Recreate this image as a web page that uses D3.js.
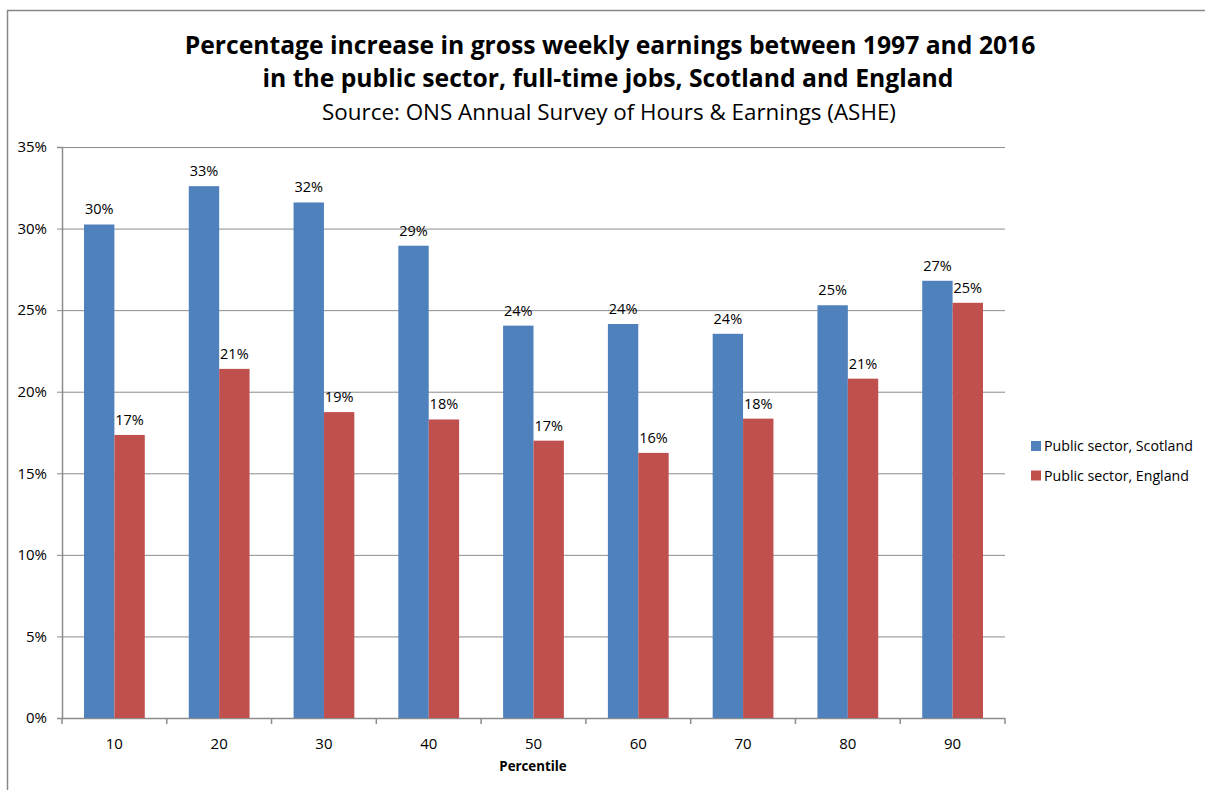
<!DOCTYPE html>
<html>
<head>
<meta charset="utf-8">
<script src="https://cdn.jsdelivr.net/npm/d3@7"></script>
<style>
  body { margin: 0; background: #fff; }
  svg { display: block; font-family: "Open Sans", sans-serif; }
</style>
</head>
<body>
<div id="chart"></div>
<script>
// data
var percentiles = ["10", "20", "30", "40", "50", "60", "70", "80", "90"];
var scotland = [30.25, 32.6, 31.6, 28.95, 24.05, 24.15, 23.55, 25.3, 26.8];
var england = [17.35, 21.4, 18.75, 18.3, 17.0, 16.25, 18.35, 20.8, 25.45];
var seriesNames = ["Public sector, Scotland", "Public sector, England"];
var seriesColors = ["#4F81BD", "#C0504D"];
var yTicks = [0, 5, 10, 15, 20, 25, 30, 35];

var svgWidth = 1205;
var svgHeight = 790;

var margin = { top: 147, right: 200, bottom: 72, left: 62 };
var width = svgWidth - margin.left - margin.right;   // 943
var height = svgHeight - margin.top - margin.bottom; // 571

var svg = d3.select("#chart")
  .append("svg")
  .attr("width", svgWidth)
  .attr("height", svgHeight);

// outer chart frame (only top + left visible)
svg.append("path")
  .attr("d", "M7.5,790 V10.5 H1205")
  .attr("fill", "none")
  .attr("stroke", "#888")
  .attr("stroke-width", 1.5);

// titles
var titles = svg.append("g").attr("text-anchor", "middle");
titles.append("text")
  .attr("x", 610).attr("y", 54)
  .attr("font-size", "24.7px").attr("font-weight", "700")
  .text("Percentage increase in gross weekly earnings between 1997 and 2016");
titles.append("text")
  .attr("x", 608).attr("y", 87)
  .attr("font-size", "24.7px").attr("font-weight", "700")
  .text("in the public sector, full-time jobs, Scotland and England");
titles.append("text")
  .attr("x", 609).attr("y", 120)
  .attr("font-size", "22.4px")
  .text("Source: ONS Annual Survey of Hours & Earnings (ASHE)");

var chartGroup = svg.append("g")
  .attr("transform", `translate(${margin.left}, ${margin.top})`);

var x0 = d3.scaleBand()
  .domain(percentiles)
  .range([0, width]);

var x1 = d3.scaleBand()
  .domain([0, 1])
  .range([x0.bandwidth() * 0.21, x0.bandwidth() * 0.79]);

var y = d3.scaleLinear()
  .domain([0, 35])
  .range([height, 0]);

// gridlines
chartGroup.append("g")
  .selectAll("line")
  .data(yTicks.filter(d => d > 0))
  .enter()
  .append("line")
  .attr("x1", 0).attr("x2", width)
  .attr("y1", d => y(d) + 0.5).attr("y2", d => y(d) + 0.5)
  .attr("stroke", "#8c8c8c")
  .attr("stroke-width", 1);

// y axis
var yAxis = d3.axisLeft(y)
  .tickValues(yTicks)
  .tickSize(5)
  .tickPadding(10)
  .tickFormat(d => d + "%");

var yG = chartGroup.append("g").call(yAxis);
yG.select(".domain").attr("stroke", "#8c8c8c").attr("stroke-width", 1.5);
yG.selectAll(".tick line").attr("stroke", "#8c8c8c");
yG.selectAll("text").attr("font-size", "15px").attr("fill", "#000")
  .attr("font-family", "Open Sans");

// x axis: ticks at band boundaries
var xG = chartGroup.append("g")
  .attr("transform", `translate(0, ${height})`);
xG.append("line")
  .attr("x1", 0).attr("x2", width)
  .attr("y1", 0.5).attr("y2", 0.5)
  .attr("stroke", "#8c8c8c").attr("stroke-width", 1.5);
xG.selectAll(".xtick")
  .data(d3.range(percentiles.length + 1))
  .enter()
  .append("line")
  .attr("class", "xtick")
  .attr("x1", i => i * x0.step()).attr("x2", i => i * x0.step())
  .attr("y1", 0).attr("y2", 6)
  .attr("stroke", "#8c8c8c").attr("stroke-width", 1.5);
xG.selectAll(".xlabel")
  .data(percentiles)
  .enter()
  .append("text")
  .attr("class", "xlabel")
  .attr("x", d => x0(d) + x0.bandwidth() / 2)
  .attr("y", 31)
  .attr("text-anchor", "middle")
  .attr("font-size", "15px")
  .text(d => d);

// bars
var rows = percentiles.map(function(p, i) {
  return { p: p, vals: [scotland[i], england[i]] };
});

var groups = chartGroup.selectAll(".grp")
  .data(rows)
  .enter()
  .append("g")
  .attr("class", "grp")
  .attr("transform", d => `translate(${x0(d.p)}, 0)`);

groups.selectAll("rect")
  .data(d => d.vals.map((v, k) => ({ v: v, k: k })))
  .enter()
  .append("rect")
  .attr("x", d => x1(d.k))
  .attr("y", d => y(d.v))
  .attr("width", x1.bandwidth())
  .attr("height", d => height - y(d.v))
  .attr("fill", d => seriesColors[d.k]);

groups.selectAll(".lbl")
  .data(d => d.vals.map((v, k) => ({ v: v, k: k })))
  .enter()
  .append("text")
  .attr("class", "lbl")
  .attr("x", d => x1(d.k) + x1.bandwidth() / 2)
  .attr("y", d => y(d.v) - 10)
  .attr("text-anchor", "middle")
  .attr("font-size", "14.5px")
  .text(d => Math.round(d.v) + "%");

// axis title
svg.append("text")
  .attr("x", 533).attr("y", 771)
  .attr("text-anchor", "middle")
  .attr("font-size", "13.3px")
  .attr("font-weight", "700")
  .text("Percentile");

// legend
var legend = svg.append("g")
  .attr("transform", "translate(1031, 441)");
var li = legend.selectAll("g")
  .data(seriesNames)
  .enter()
  .append("g")
  .attr("transform", (d, i) => `translate(0, ${i * 29.5})`);
li.append("rect")
  .attr("width", 10).attr("height", 10)
  .attr("fill", (d, i) => seriesColors[i]);
li.append("text")
  .attr("x", 13).attr("y", 10)
  .attr("font-size", "14.2px")
  .text(d => d);
</script>
</body>
</html>
